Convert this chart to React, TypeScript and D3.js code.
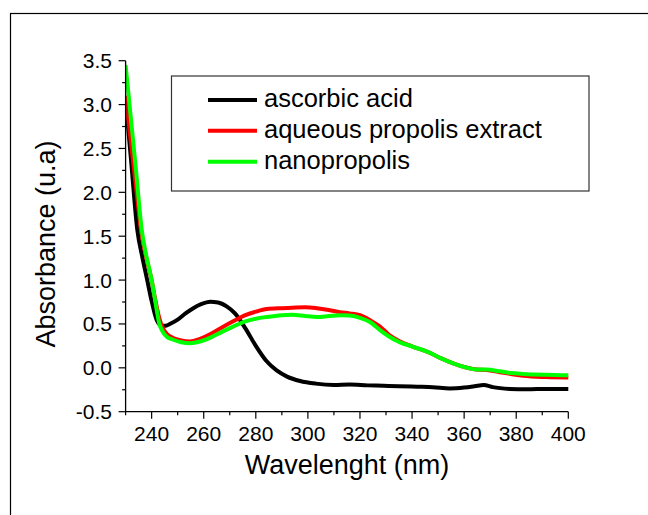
import React from "react";
import * as d3 from "d3";

const blackX = [230, 232, 234.5, 236.5, 238.3, 240, 242, 243.9, 245.5, 247, 250, 253, 256, 259, 262.5, 265.5, 268.8, 272, 276, 280, 284, 288, 292, 297, 303, 310, 316, 323, 329, 335, 342, 348, 354.5, 360, 364, 367.5, 371, 377.6, 384, 392, 400];
const blackY = [3.05, 2.4, 1.57, 1.25, 1.0, 0.76, 0.54, 0.48, 0.48, 0.5, 0.55, 0.62, 0.68, 0.725, 0.752, 0.745, 0.7, 0.62, 0.45, 0.25, 0.08, -0.03, -0.1, -0.15, -0.18, -0.195, -0.19, -0.2, -0.205, -0.21, -0.215, -0.22, -0.235, -0.225, -0.21, -0.195, -0.22, -0.24, -0.245, -0.24, -0.24];

const redX = [230, 232, 234, 236, 238, 240, 241.5, 243, 244.5, 246, 248.3, 251, 254.7, 258.6, 263, 267, 271.3, 276, 280, 284.2, 290, 294, 299, 303.4, 308, 312.3, 316, 320, 324, 327.7, 331, 335.4, 340.4, 346.9, 351, 355.8, 360, 364.8, 368.6, 373.7, 378, 382.7, 391.6, 400];
const redY = [3.1, 2.58, 2.06, 1.55, 1.25, 1.0, 0.76, 0.56, 0.44, 0.38, 0.34, 0.315, 0.3, 0.33, 0.39, 0.46, 0.53, 0.6, 0.64, 0.67, 0.68, 0.685, 0.69, 0.68, 0.66, 0.635, 0.62, 0.6, 0.54, 0.47, 0.38, 0.3, 0.24, 0.17, 0.11, 0.05, 0.01, -0.02, -0.025, -0.05, -0.07, -0.09, -0.105, -0.11];

const greenX = [230, 232, 234, 236.2, 238, 240, 241.5, 242.8, 244.5, 246, 248.3, 251, 254.7, 258.6, 263, 267, 271.3, 276, 280, 284.2, 290, 294, 299, 303.4, 308, 312.3, 316, 320, 324, 327.7, 331, 335.4, 340.4, 346.9, 351, 355.8, 360, 364.8, 368.6, 373.7, 378, 382.7, 391.6, 400];
const greenY = [3.45, 2.85, 2.25, 1.57, 1.27, 1.0, 0.74, 0.52, 0.4, 0.35, 0.32, 0.295, 0.28, 0.3, 0.35, 0.41, 0.47, 0.53, 0.56, 0.58, 0.6, 0.605, 0.59, 0.58, 0.59, 0.6, 0.595, 0.57, 0.52, 0.43, 0.36, 0.29, 0.24, 0.17, 0.11, 0.05, 0.01, -0.02, -0.02, -0.04, -0.06, -0.07, -0.08, -0.085];

const seriesNames = ["ascorbic acid", "aqueous propolis extract", "nanopropolis"];
const seriesColors = ["#000000", "#ff0000", "#00ff00"];

const xMajor = [240, 260, 280, 300, 320, 340, 360, 380, 400];
const xMinor = [230, 250, 270, 290, 310, 330, 350, 370, 390];
const yMajor = [-0.5, 0.0, 0.5, 1.0, 1.5, 2.0, 2.5, 3.0, 3.5];
const yMinor = [-0.25, 0.25, 0.75, 1.25, 1.75, 2.25, 2.75, 3.25];

const xTitle = "Wavelenght (nm)";
const yTitle = "Absorbance (u.a)";

export default function App() {
  const x = d3.scaleLinear().domain([230, 400]).range([125.6, 568.3]);
  const y = d3.scaleLinear().domain([-0.5, 3.5]).range([411.7, 60.7]);
  const font = "'Liberation Sans', Arial, sans-serif";

  const line = d3
    .line<[number, number]>()
    .x((d) => x(d[0]))
    .y((d) => y(d[1]))
    .curve(d3.curveMonotoneX);

  const series = [
    { xs: blackX, ys: blackY },
    { xs: redX, ys: redY },
    { xs: greenX, ys: greenY },
  ];

  const x0 = x(230);
  const y0 = y(-0.5);

  const legendRows = [100, 130.7, 161.7];

  return (
    <svg
      width={648}
      height={515}
      style={{ position: "absolute", left: 0, top: 0, background: "#fff" }}
      fontFamily={font}
    >
      <rect x={0} y={0} width={648} height={515} fill="#fff" />
      <rect x={10.5} y={13.5} width={700} height={600} fill="none" stroke="#000" strokeWidth={1.2} />

      <defs>
        <clipPath id="plotclip">
          <rect x={x0} y={y(3.5) - 2} width={x(400) - x0 + 2} height={y0 - y(3.5) + 2} />
        </clipPath>
      </defs>

      {/* data lines */}
      <g clipPath="url(#plotclip)">
        {series.map((s, i) => (
          <path
            key={i}
            d={line(s.xs.map((v, j) => [v, s.ys[j]] as [number, number])) || ""}
            fill="none"
            stroke={seriesColors[i]}
            strokeWidth={4}
            strokeLinejoin="round"
          />
        ))}
      </g>

      {/* axes */}
      <line x1={x0} x2={x(400)} y1={y0} y2={y0} stroke="#000" strokeWidth={1.3} />
      <line x1={x0} x2={x0} y1={y(3.5)} y2={y0} stroke="#000" strokeWidth={1.3} />

      {xMajor.map((t) => (
        <g key={"xm" + t}>
          <line x1={x(t)} x2={x(t)} y1={y0} y2={y0 + 7} stroke="#000" strokeWidth={1.2} />
          <text x={x(t)} y={441} fontSize={21} textAnchor="middle" fill="#000">
            {t}
          </text>
        </g>
      ))}
      {xMinor.map((t) => (
        <line key={"xn" + t} x1={x(t)} x2={x(t)} y1={y0} y2={y0 + 3.5} stroke="#000" strokeWidth={1.2} />
      ))}

      {yMajor.map((t) => (
        <g key={"ym" + t}>
          <line x1={x0 - 7} x2={x0} y1={y(t)} y2={y(t)} stroke="#000" strokeWidth={1.2} />
          <text x={112} y={y(t) + 7.5} fontSize={21} textAnchor="end" fill="#000">
            {t.toFixed(1)}
          </text>
        </g>
      ))}
      {yMinor.map((t) => (
        <line key={"yn" + t} x1={x0 - 3.5} x2={x0} y1={y(t)} y2={y(t)} stroke="#000" strokeWidth={1.2} />
      ))}

      {/* axis titles */}
      <text x={(x0 + x(400)) / 2} y={474} fontSize={27} textAnchor="middle" fill="#000">
        {xTitle}
      </text>
      <text
        transform={`translate(55, 244) rotate(-90)`}
        fontSize={27}
        textAnchor="middle"
        fill="#000"
      >
        {yTitle}
      </text>

      {/* legend */}
      <rect x={171.5} y={76} width={417.5} height={115} fill="#fff" stroke="#333" strokeWidth={1.2} />
      {seriesNames.map((name, i) => (
        <g key={name}>
          <line x1={208} x2={257} y1={legendRows[i]} y2={legendRows[i]} stroke={seriesColors[i]} strokeWidth={4} />
          <text x={264} y={legendRows[i] + 7} fontSize={25.5} fill="#000">
            {name}
          </text>
        </g>
      ))}
    </svg>
  );
}
